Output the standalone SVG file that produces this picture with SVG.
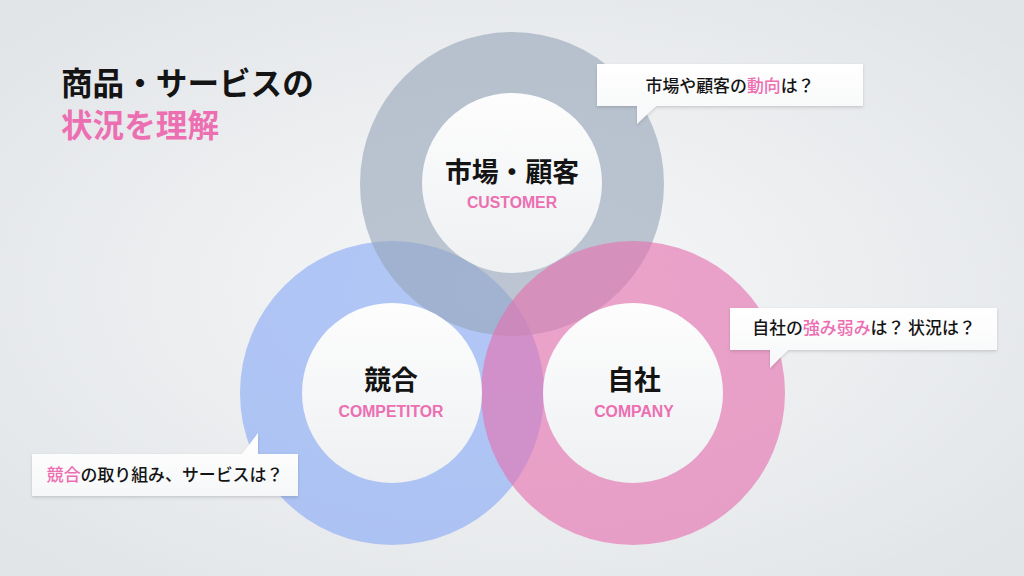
<svg xmlns="http://www.w3.org/2000/svg" width="1024" height="576" viewBox="0 0 1024 576">
  <defs>
    <radialGradient id="bg" cx="50%" cy="50%" r="65%">
      <stop offset="0" stop-color="#f6f7f8"/>
      <stop offset="1" stop-color="#e2e5e8"/>
    </radialGradient>
    <linearGradient id="inner" x1="0" y1="0" x2="0" y2="1">
      <stop offset="0" stop-color="#fdfdfd"/>
      <stop offset="1" stop-color="#eef0f2"/>
    </linearGradient>
    <linearGradient id="box" x1="0" y1="0" x2="0" y2="1">
      <stop offset="0" stop-color="#ffffff"/>
      <stop offset="1" stop-color="#f6f7f8"/>
    </linearGradient>
    <filter id="shadow" x="-10%" y="-30%" width="120%" height="160%">
      <feDropShadow dx="0" dy="1.5" stdDeviation="1.5" flood-color="#000" flood-opacity="0.15"/>
    </filter>
  </defs>
  <style>
    .ring { opacity: 0.62; }
    .inner { fill: url(#inner); }
    .jp { font-family: "Noto Sans CJK JP", "Liberation Sans", sans-serif; fill: #141414; }
    .label { font-size: 26.8px; font-weight: 700; text-anchor: middle; }
    .en { font-family: "Liberation Sans", Arial, sans-serif; font-size: 15.8px; font-weight: 700; fill: #ec6fb2; text-anchor: middle; }
    .pink { fill: #ec6fb2; }
    .title { font-size: 31.6px; font-weight: 700; }
    .call { font-size: 16.9px; font-weight: 500; text-anchor: middle; }
    .bubble { fill: url(#box); filter: url(#shadow); }
  </style>

  <rect width="1024" height="576" fill="url(#bg)"/>

  <g id="title">
    <text class="jp title" x="61" y="95">商品・サービスの</text>
    <text class="jp title pink" x="61" y="137">状況を理解</text>
  </g>

  <g id="rings">
    <circle class="ring" cx="392" cy="393" r="152" fill="#88aaf6"/>
    <circle class="ring" cx="512" cy="184" r="152" fill="#98a7b9"/>
    <circle class="ring" cx="633" cy="393" r="152" fill="#e570af"/>
  </g>

  <g id="customer">
    <circle class="inner" cx="512" cy="183" r="90"/>
    <text class="jp label" x="512" y="182">市場・顧客</text>
    <text class="en" x="512" y="208">CUSTOMER</text>
  </g>

  <g id="competitor">
    <circle class="inner" cx="392" cy="393" r="90"/>
    <text class="jp label" x="391" y="390">競合</text>
    <text class="en" x="391" y="417">COMPETITOR</text>
  </g>

  <g id="company">
    <circle class="inner" cx="633" cy="393" r="90"/>
    <text class="jp label" x="634" y="390">自社</text>
    <text class="en" x="634" y="417">COMPANY</text>
  </g>

  <g id="callout-customer">
    <path class="bubble" d="M597,64 H863 V106 H656 L637,124 V106 H597 Z"/>
    <text class="jp call" x="730" y="92">市場や顧客の<tspan class="pink">動向</tspan>は？</text>
  </g>

  <g id="callout-company">
    <path class="bubble" d="M730,308 H997 V350 H788 L770,368 V350 H730 Z"/>
    <text class="jp call" x="864" y="334">自社の<tspan class="pink">強み弱み</tspan>は？ 状況は？</text>
  </g>

  <g id="callout-competitor">
    <path class="bubble" d="M32,454 H242 L258,433 V454 H298 V496 H32 Z"/>
    <text class="jp call" x="165" y="481"><tspan class="pink">競合</tspan>の取り組み、サービスは？</text>
  </g>
</svg>
